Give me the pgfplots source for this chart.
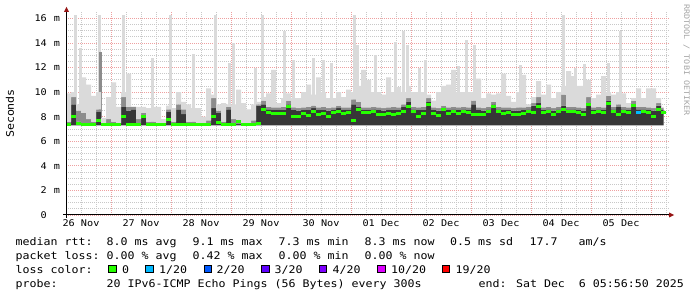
\documentclass[border=0pt]{standalone}
\usepackage{fontspec}
\usepackage{pgfplots}
\usepackage{pgfplotstable}
\pgfplotsset{compat=1.18}
\newfontfamily\monofam[FakeStretch=1.107]{DejaVu Sans Mono}
\newcommand\lf{\monofam\fontsize{10.5bp}{12bp}\selectfont}
\newcommand\af{\monofam\fontsize{9.2bp}{11bp}\selectfont}
\newcommand\wf{\monofam\fontsize{7.6bp}{9bp}\selectfont}
\definecolor{smokeL}{RGB}{218,218,218}
\definecolor{smokeM}{RGB}{140,140,140}
\definecolor{smokeD}{RGB}{55,55,55}
\definecolor{med0}{HTML}{26FF00}
\definecolor{l1}{HTML}{00B8FF}
\definecolor{l2}{HTML}{0059FF}
\definecolor{l3}{HTML}{5E00FF}
\definecolor{l4}{HTML}{7E00FF}
\definecolor{l10}{HTML}{DD00FF}
\definecolor{l19}{HTML}{FF0000}
\definecolor{mgrid}{RGB}{238,160,160}
\definecolor{ngrid}{RGB}{200,200,200}
\definecolor{arrowred}{RGB}{150,20,20}
\definecolor{wm}{RGB}{165,165,165}

% x = hours since 26 Nov 00:00; each row holds from x to next x
% lo = fastest ping, dk = top of dark band, mg = top of mid-grey, hi = top of light smoke, med = median
\pgfplotstableread{
x lo dk mg hi med
6 7.3 7.4 7.6 9.9 7.4
8 7.3 9.0 9.6 10.0 8.0
10 7.3 7.6 8.5 9.0 7.45
12 7.3 7.4 8.3 11.2 7.4
14 7.3 7.4 7.8 10.6 7.4
16 7.3 7.4 7.6 9.7 7.4
18 7.3 8.4 8.6 10.0 7.7
20 7.3 7.4 7.5 7.9 7.4
22 7.3 7.4 7.8 9.6 7.4
24 7.3 7.4 7.6 10.8 7.4
26 7.3 7.4 7.5 8.8 7.4
28 7.3 8.8 9.6 10.0 8.0
30 7.3 8.5 8.8 11.5 7.4
32 7.3 8.6 8.8 8.8 7.4
34 7.3 7.4 7.8 8.8 7.4
36 7.3 8.0 8.3 8.8 8.0
38 7.3 7.4 7.6 8.7 7.4
40 7.3 7.4 7.6 8.8 7.4
42 7.3 7.4 7.5 8.8 7.4
44 7.3 7.4 7.5 7.8 7.4
46 7.3 8.4 8.6 8.9 7.8
48 7.3 7.4 7.6 8.7 7.4
50 7.3 8.6 9.0 10.0 7.4
52 7.3 8.2 8.6 9.2 7.4
54 7.3 7.4 7.6 9.0 7.4
56 7.3 7.4 7.6 8.7 7.4
58 7.3 7.4 7.5 8.7 7.4
60 7.3 7.4 7.5 8.0 7.4
62 7.3 7.4 7.7 10.3 7.4
64 7.3 8.7 9.5 9.8 8.0
66 7.3 8.3 8.5 9.0 7.5
68 7.3 7.4 7.6 9.1 7.4
70 7.3 8.6 8.8 9.0 7.4
72 7.3 7.4 7.8 9.0 7.4
74 7.3 7.4 7.6 10.2 7.6
76 7.3 7.4 7.5 9.1 7.4
78 7.3 7.4 7.5 8.6 7.4
80 7.3 7.4 7.7 9.0 7.4
82 7.3 8.9 9.0 9.2 7.45
84 7.3 9.0 9.3 9.6 8.6
86 7.3 8.6 8.8 9.9 8.3
88 7.3 8.55 8.75 11.8 8.25
90 7.3 8.55 8.75 9.1 8.25
92 7.3 8.55 8.8 9.5 8.25
94 7.3 9.0 9.3 9.9 8.85
96 7.3 8.55 8.75 9.5 8.0
98 7.3 8.5 8.7 9.5 8.05
100 7.3 8.55 8.75 10.0 8.25
102 7.3 8.55 8.8 10.6 8.1
104 7.3 8.7 8.9 9.8 8.4
106 7.3 8.55 8.75 11.2 8.2
108 7.3 8.55 8.8 10.0 8.25
110 7.3 8.5 8.7 9.5 8.0
112 7.3 8.55 8.75 9.5 8.3
114 7.3 8.7 8.9 10.0 8.45
116 7.3 8.55 8.75 9.6 8.25
118 7.3 8.55 8.75 10.2 8.3
120 7.3 9.0 9.4 10.0 7.7
122 7.3 8.8 9.2 10.5 8.6
124 7.3 8.55 8.75 11.8 8.3
126 7.3 8.55 8.75 11.0 8.3
128 7.3 8.6 8.8 10.0 8.4
130 7.3 8.55 8.75 10.0 8.2
132 7.3 8.5 8.7 9.8 8.2
134 7.3 8.55 8.75 11.2 8.25
136 7.3 8.55 8.8 10.0 8.15
138 7.3 8.55 8.75 10.4 8.25
140 7.3 8.8 9.0 10.0 8.45
142 7.3 9.2 9.5 10.5 8.85
144 7.3 8.6 8.8 10.0 8.4
146 7.3 8.55 8.75 10.0 8.05
148 7.3 8.55 8.8 10.0 8.25
150 7.3 9.2 9.5 9.8 9.0
152 7.3 8.55 8.75 9.3 8.25
154 7.3 8.5 8.7 10.0 8.1
156 7.3 8.7 8.9 10.5 8.6
158 7.3 8.55 8.75 10.6 8.25
160 7.3 8.6 8.8 11.8 8.4
162 7.3 8.55 8.75 10.0 8.27
164 7.3 8.6 8.8 10.0 8.4
166 7.3 8.55 8.75 10.0 8.35
168 7.3 9.0 9.3 10.0 8.2
170 7.3 8.55 8.75 11.1 8.2
172 7.3 8.5 8.7 9.5 8.2
174 7.3 8.6 8.8 9.9 8.4
176 7.3 9.0 9.2 9.8 8.8
178 7.3 8.6 8.8 9.9 8.4
180 7.3 8.55 8.75 11.5 8.27
182 7.3 8.55 8.75 9.7 8.33
184 7.3 8.5 8.7 9.2 8.2
186 7.3 8.5 8.75 10.0 8.14
188 7.3 8.55 8.75 11.4 8.27
190 7.3 8.6 8.8 9.0 8.4
192 7.3 8.9 9.1 9.6 8.3
194 7.3 9.1 9.6 10.9 8.8
196 7.3 8.55 8.75 9.8 8.3
198 7.3 8.6 8.8 10.6 8.4
200 7.3 8.5 8.7 9.5 8.15
202 7.3 8.6 8.8 10.0 8.4
204 7.3 8.9 9.8 10.5 8.6
206 7.3 8.6 8.8 11.7 8.4
208 7.3 8.6 8.8 11.3 8.45
210 7.3 8.55 8.75 10.5 8.3
212 7.3 8.5 8.7 10.5 8.14
214 7.3 9.1 9.6 11.0 8.95
216 7.3 8.55 8.75 9.5 8.3
218 7.3 8.6 8.8 9.8 8.4
220 7.3 8.55 8.75 11.3 8.35
222 7.3 9.3 9.7 10.0 9.1
224 7.3 8.6 8.8 9.8 8.4
226 7.3 8.8 9.0 10.0 8.2
228 7.3 8.6 8.8 9.9 8.45
230 7.3 8.55 8.75 9.1 8.35
232 7.3 9.0 9.3 9.5 8.9
234 7.3 8.6 8.8 10.3 8.33
236 7.3 8.6 8.8 9.5 8.4
238 7.3 8.55 8.75 10.3 8.3
240 7.3 8.5 8.7 10.3 8.0
242 7.3 8.9 9.1 9.5 8.6
244 7.3 8.55 8.7 8.8 8.35
245 7.3 8.55 8.7 8.8 8.35
}\smoke

% narrow tall smoke spikes (slowest pings): from b up to h
\pgfplotstableread{
x b h
9.8 7.4 16.3
11.8 7.4 13.6
19.4 7.4 16.3
29 7.4 16.3
40.4 7.4 12.8
47.8 7.4 16.3
57 7.4 13.1
65.8 7.4 16.3
71.4 7.4 12.4
73 7.4 14.0
81.6 7.4 12.0
84.4 7.4 16.3
93.2 7.4 15.0
96.8 7.4 12.6
104.8 7.4 12.8
108.8 7.4 12.6
112 7.4 12.4
121.2 7.4 16.3
122.6 7.4 13.8
129.6 7.4 13.0
137.6 7.4 14.1
141 7.4 15.0
142.4 7.4 13.8
147.2 7.4 12.0
149.6 7.4 12.6
162.8 7.4 12.1
166 7.4 14.2
169.2 7.4 13.8
187.6 7.4 12.2
204.8 7.4 16.3
209.8 7.4 12.0
213.4 7.4 12.3
223 7.4 12.4
227.8 7.4 15.0
}\spikes

\pgfplotstableread{
x b h
19.8 7.4 13.3
}\midspikes

\pgfplotstableread{
x med
234 8.33
}\blueseg

\newcommand\yl[2]{\makebox[13bp][r]{#1}\hspace{7bp}\makebox[6bp][l]{#2}}
\newcommand\lt[3]{\node[anchor=base west,inner sep=0pt,font=\lf] at (#1bp,#2bp) {#3};}
\newcommand\sq[2]{\fill[#2] (#1bp,24bp) rectangle ++(7.5bp,7.5bp);
  \draw[black,line width=1bp] (#1bp,24bp) rectangle ++(7.5bp,7.5bp);}

\pgfplotsset{chartgeom/.style={scale only axis, width=603bp, height=202.8bp,
  xmin=6, xmax=247.2, ymin=0, ymax=16.5, at={(66bp,82bp)}, anchor=south west,
  axis line style={draw=none}},
  spikebar/.style={only marks, mark=*, mark size=0.1pt, mark options={opacity=0},
  error bars/.cd, y dir=plus, y explicit, error mark=none,
  error bar style={line width=3bp, color=#1, line cap=butt}}}

\begin{document}
\begin{tikzpicture}
\fill[white] (0,0) rectangle (697bp,297bp);

% grid and tick labels (underneath the data)
\begin{axis}[chartgeom,
  xtick={24,48,...,240}, xticklabels={},
  extra x ticks={12,36,...,228},
  extra x tick labels={26 Nov,27 Nov,28 Nov,29 Nov,30 Nov,01 Dec,02 Dec,03 Dec,04 Dec,05 Dec},
  extra x tick style={grid=none},
  minor xtick={6,12,...,246},
  ytick={0,2,...,16},
  yticklabels={\yl{0}{},\yl{2}{m},\yl{4}{m},\yl{6}{m},\yl{8}{m},\yl{10}{m},\yl{12}{m},\yl{14}{m},\yl{16}{m}},
  minor ytick={0.5,1,...,16},
  grid=both,
  major grid style={mgrid, dash pattern=on 1bp off 1bp, line width=0.8bp},
  minor grid style={ngrid, dash pattern=on 1bp off 1bp, line width=0.8bp},
  major tick length=0pt, minor tick length=0pt,
  xticklabel style={font=\af, anchor=base, inner sep=0pt, yshift=-11.3bp},
  yticklabel style={font=\af, anchor=base east, inner sep=0pt, xshift=-6bp, yshift=-3.35bp},
]
\end{axis}

% smoke and median
\begin{axis}[chartgeom, xtick=\empty, ytick=\empty]
\addplot[spikebar=smokeL] table[x=x, y=b, y error expr=\thisrow{h}-\thisrow{b}]{\spikes};
\addplot[spikebar=smokeM] table[x=x, y=b, y error expr=\thisrow{h}-\thisrow{b}]{\midspikes};
\addplot[draw=none, const plot, stack plots=y] table[x=x,y=lo]{\smoke};
\addplot[fill=smokeD, draw=none, const plot, stack plots=y]
  table[x=x,y expr=\thisrow{dk}-\thisrow{lo}]{\smoke} \closedcycle;
\addplot[fill=smokeM, draw=none, const plot, stack plots=y]
  table[x=x,y expr=\thisrow{mg}-\thisrow{dk}]{\smoke} \closedcycle;
\addplot[fill=smokeL, draw=none, const plot, stack plots=y]
  table[x=x,y expr=\thisrow{hi}-\thisrow{mg}]{\smoke} \closedcycle;
\addplot[only marks, mark=-, mark size=2.5bp, mark options={med0, line width=3bp},
  skip coords between index={120}{121}]
  table[x expr=\thisrow{x}+1, y=med]{\smoke};
\addplot[only marks, mark=-, mark size=2.5bp, mark options={l1, line width=3bp}]
  table[x expr=\thisrow{x}+1, y=med]{\blueseg};
\end{axis}

% axis lines with arrows
\draw[black, line width=1bp] (63bp,82bp) -- (669bp,82bp);
\fill[arrowred] (669bp,79.5bp) -- (674bp,82bp) -- (669bp,84.5bp) -- cycle;
\draw[black, line width=1bp] (66.5bp,79bp) -- (66.5bp,285bp);
\fill[arrowred] (64bp,285bp) -- (66.5bp,290bp) -- (69bp,285bp) -- cycle;

% axis title and watermark
\node[rotate=90, font=\lf, inner sep=0pt] at (10bp,183.5bp) {Seconds};
\node[rotate=-90, font=\wf, text=wm, inner sep=0pt] at (686.5bp,237bp) {RRDTOOL / TOBI OETIKER};

% legend rows
\lt{15.5}{51.7}{median rtt:}
\lt{106.5}{51.7}{8.0 ms avg}
\lt{192.5}{51.7}{9.1 ms max}
\lt{278.5}{51.7}{7.3 ms min}
\lt{364.5}{51.7}{8.3 ms now}
\lt{450}{51.7}{0.5 ms sd}
\lt{529.5}{51.7}{17.7}
\lt{578.5}{51.7}{am/s}

\lt{15.5}{37.9}{packet loss:}
\lt{106.5}{37.9}{0.00 \% avg}
\lt{192.5}{37.9}{0.42 \% max}
\lt{278.5}{37.9}{0.00 \% min}
\lt{364.5}{37.9}{0.00 \% now}

\lt{15.5}{24.0}{loss color:}
\sq{108.5}{med0}\lt{122}{24.0}{0}
\sq{145.5}{l1}\lt{159}{24.0}{1/20}
\sq{204}{l2}\lt{216.5}{24.0}{2/20}
\sq{261.5}{l3}\lt{274.5}{24.0}{3/20}
\sq{319}{l4}\lt{332.5}{24.0}{4/20}
\sq{377.5}{l10}\lt{391}{24.0}{10/20}
\sq{442}{l19}\lt{455.5}{24.0}{19/20}

\lt{15.5}{9.7}{probe:}
\lt{106.5}{9.7}{20 IPv6-ICMP Echo Pings (56 Bytes) every 300s}
\lt{478.5}{9.7}{end: Sat Dec\ \ 6 05:56:50 2025}
\end{tikzpicture}
\end{document}
